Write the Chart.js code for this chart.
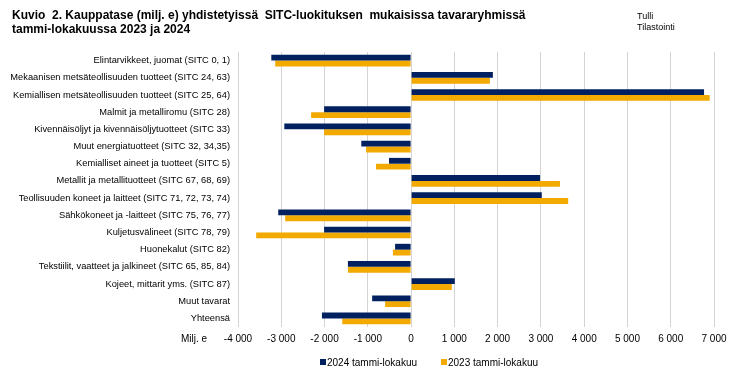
<!DOCTYPE html>
<html>
<head>
<meta charset="utf-8">
<script src="https://cdn.jsdelivr.net/npm/chart.js@4/dist/chart.umd.min.js"></script>
<style>
  html, body { margin: 0; padding: 0; background: #fff; }
  #wrap { position: relative; width: 737px; height: 378px; }
  #c { position: absolute; left: 0; top: 0; }
  .title { position: absolute; left: 12px; top: 8px; font: bold 12px "Liberation Sans Narrow", "Liberation Sans", Arial, sans-serif; line-height: 14px; color: #000; }
  .src { position: absolute; left: 637px; top: 11px; font: 9px "Liberation Sans Narrow", "Liberation Sans", Arial, sans-serif; line-height: 11px; color: #000; }
  .unit { position: absolute; left: 181px; top: 333px; font: 10px "Liberation Sans", Arial, sans-serif; color: #000; }
  .legend { position: absolute; top: 357px; left: 320px; font: 10px "Liberation Sans", Arial, sans-serif; color: #000; }
  .legend span.item { position: absolute; white-space: nowrap; }
  .legend i { display: inline-block; width: 6px; height: 6px; margin-right: 1px; vertical-align: 1px; }
</style>
</head>
<body>
<div id="wrap">
  <canvas id="c" width="737" height="378"></canvas>
  <div class="title">Kuvio&nbsp; 2. Kauppatase (milj. e) yhdistetyissä&nbsp; SITC-luokituksen&nbsp; mukaisissa tavararyhmissä<br>tammi-lokakuussa 2023 ja 2024</div>
  <div class="src">Tulli<br>Tilastointi</div>
  <div class="unit">Milj. e</div>
  <div class="legend" id="legend"></div>
</div>
<script>
const categories = [
  "Elintarvikkeet, juomat (SITC 0, 1)",
  "Mekaanisen metsäteollisuuden tuotteet (SITC 24, 63)",
  "Kemiallisen metsäteollisuuden tuotteet (SITC 25, 64)",
  "Malmit ja metalliromu (SITC 28)",
  "Kivennäisöljyt ja kivennäisöljytuotteet (SITC 33)",
  "Muut energiatuotteet (SITC 32, 34,35)",
  "Kemialliset aineet ja tuotteet (SITC 5)",
  "Metallit ja metallituotteet (SITC 67, 68, 69)",
  "Teollisuuden koneet ja laitteet (SITC 71, 72, 73, 74)",
  "Sähkökoneet ja -laitteet (SITC 75, 76, 77)",
  "Kuljetusvälineet (SITC 78, 79)",
  "Huonekalut (SITC 82)",
  "Tekstiilit, vaatteet ja jalkineet (SITC 65, 85, 84)",
  "Kojeet, mittarit yms. (SITC 87)",
  "Muut tavarat",
  "Yhteensä"
];
const seriesNames = ["2024 tammi-lokakuu", "2023 tammi-lokakuu"];
const values2024 = [-3230, 1890, 6770, -2010, -2930, -1150, -510, 2980, 3020, -3070, -2010, -370, -1460, 1010, -900, -2060];
const values2023 = [-3140, 1820, 6900, -2310, -2010, -1040, -810, 3440, 3630, -2910, -3580, -420, -1460, 940, -600, -1590];
const xMin = -4000, xMax = 7000, xStep = 1000;

const colors = ["#002060", "#f2a900"];
const font = "'Liberation Sans', Arial, sans-serif";

function fmt(v) {
  const s = Math.abs(v).toString().replace(/\B(?=(\d{3})+(?!\d))/g, " ");
  return (v < 0 ? "-" : "") + s;
}

new Chart(document.getElementById("c"), {
  type: "bar",
  data: {
    labels: categories,
    datasets: [values2024, values2023].map((d, i) => ({
      label: seriesNames[i],
      data: d,
      backgroundColor: colors[i],
      borderWidth: 0,
      barPercentage: 1,
      categoryPercentage: 0.68,
    })),
  },
  options: {
    indexAxis: "y",
    responsive: false,
    animation: false,
    layout: { padding: { top: 52, left: 0, right: 23, bottom: 31 } },
    plugins: { legend: { display: false }, tooltip: { enabled: false } },
    scales: {
      x: {
        min: xMin, max: xMax,
        grid: { color: "#d4d4d4", lineWidth: 1, drawTicks: false },
        border: { display: false },
        ticks: { stepSize: xStep, color: "#000", font: { family: font, size: 10 }, padding: 6, callback: v => fmt(v), maxRotation: 0 },
        afterFit: s => { s.height = 20; },
      },
      y: {
        grid: { display: false, drawTicks: false },
        border: { display: false },
        ticks: { autoSkip: false, color: "#000", font: { family: font, size: 9.3 }, padding: 8 },
        afterFit: s => { s.width = 238; },
      },
    },
  },
});

// legend
const lg = document.getElementById("legend");
const offs = [0, 121];
seriesNames.forEach((n, i) => {
  const el = document.createElement("span");
  el.className = "item";
  el.style.left = offs[i] + "px";
  el.innerHTML = `<i style="background:${colors[i]}"></i>${n}`;
  lg.appendChild(el);
});
</script>
</body>
</html>
